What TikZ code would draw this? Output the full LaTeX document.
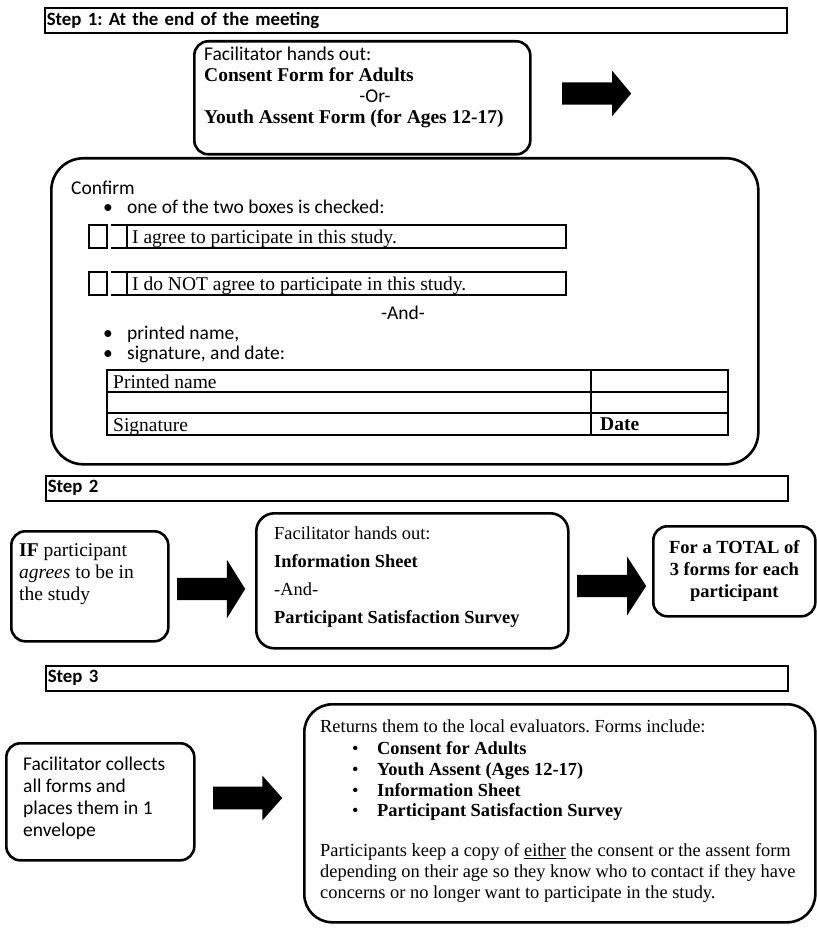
\documentclass[tikz,border=0pt]{standalone}
\usepackage{fontspec}
\setmainfont{Liberation Serif}
\newfontfamily\calfont{Carlito}
\frenchspacing
\usetikzlibrary{shapes.arrows}
\usetikzlibrary{positioning}
\tikzset{stepbar/.style={draw, line width=1.6pt, anchor=north west, minimum width=742pt, minimum height=25pt, text width=738pt, align=left, inner xsep=2pt, inner ysep=0pt, font=\calfont\bfseries\fontsize{18.8}{20}\selectfont}}
\tikzset{box/.style={draw, line width=2.6pt, anchor=north west, inner sep=0pt, rounded corners=14pt}}
\tikzset{fat/.style={single arrow, fill=black, draw=none, inner xsep=0pt, inner ysep=11pt, anchor=tail, single arrow tip angle=100}}
\tikzset{serif/.style={inner sep=0pt, font=\fontsize{19.5}{21}\selectfont}}
\tikzset{small/.style={inner sep=0pt, font=\fontsize{18.4}{21}\selectfont}}
\tikzset{sans/.style={inner sep=0pt, font=\calfont\fontsize{19.5}{21}\selectfont}}
\tikzset{rule/.style={line width=1.1pt}}

\begin{document}
\begin{tikzpicture}[x=1pt,y=-1pt]
    \useasboundingbox (0,0) rectangle (816,928);
    % Step 1
    \node[stepbar] (bar1) at (44,7) {Step 1: At the end of the meeting};
    \node[box, minimum width=336pt, minimum height=113pt] (handout) at (193,40) {};
    \node[serif, anchor=north west, align=left] (handouttxt) at (204,47) {{\calfont Facilitator hands out:}\\\textbf{Consent Form for Adults}\\[21pt]\textbf{Youth Assent Form (for Ages 12-17)}};
    \node[sans] (or) at (375,96) {-Or-};
    \node[fat, minimum height=69pt, minimum width=45pt, single arrow head extend=11.5pt] (arr1) at (562,93.5) {};

    \node[box, rounded corners=32pt, minimum width=707pt, minimum height=306pt] (confirm) at (50,157) {};
    \node[sans, anchor=mid west] (confirmtxt) at (71,192) {Confirm};
    \foreach \y/\lab/\tx in {
      211/boxes/{one of the two boxes is checked:},
      337/pname/{printed name,},
      357/sign/{signature, and date:}%
    } {
      \node[sans, anchor=mid west] (dot\lab) at (103,\y) {\textbullet};
      \node[sans, anchor=mid west] (\lab) at (127,\y) {\tx};
    }
    \foreach \y/\lab/\tx in {
      225/agree/{I agree to participate in this study.},
      272/disagree/{I do NOT agree to participate in this study.}%
    } {
      \draw[rule] (89,\y) rectangle ++(18,23);
      \draw[rule] (111,\y) -- ++(16,0) (111,{\y+23}) -- ++(16,0);
      \draw[rule] (127,\y) rectangle (566,{\y+23});
      \node[serif, anchor=base west] (\lab) at (132,{\y+18}) {\tx};
    }
    \node[sans] (and1) at (403,313) {-And-};
    \draw[rule] (107,370) rectangle (728,435);
    \draw[rule] (107,392) -- (728,392);
    \draw[rule] (107,413) -- (728,413);
    \draw[rule] (591,370) -- (591,435);
    \node[serif, anchor=base west] (printed) at (113,388) {Printed name};
    \node[serif, anchor=base west] (signature) at (113,431) {Signature};
    \node[serif, anchor=base west] (date) at (600,430) {\textbf{Date}};

    % Step 2
    \node[stepbar] (bar2) at (45,475) {Step 2};
    \node[box, minimum width=157pt, minimum height=110pt] (agrees) at (10,530) {};
    \node[serif, anchor=north west, align=left, font=\fontsize{19.5}{22}\selectfont] (agreestxt) at (19,543) {\textbf{IF} participant\\\textit{agrees} to be in\\the study};
    \node[fat, minimum height=68pt, minimum width=58pt, single arrow head extend=18pt, single arrow tip angle=116] (arr2) at (177,589) {};
    \node[box, rounded corners=18pt, minimum width=312pt, minimum height=135pt] (info) at (255,512) {};
    \node[small, anchor=north west, align=left, font=\fontsize{18.4}{28}\selectfont] (infotxt) at (274,527) {Facilitator hands out:\\\textbf{Information Sheet}\\-And-\\\textbf{Participant Satisfaction Survey}};
    \node[fat, minimum height=69pt, minimum width=58pt, single arrow head extend=18pt, single arrow tip angle=114] (arr3) at (577,586) {};
    \node[box, minimum width=162pt, minimum height=90pt] (total) at (652,525) {};
    \node[small, align=center, font=\bfseries\fontsize{18.5}{22}\selectfont] (totaltxt) at (total.center) {For a TOTAL of\\3 forms for each\\participant};

    % Step 3
    \node[stepbar] (bar3) at (45,665) {Step 3};
    \node[box, minimum width=188pt, minimum height=117pt] (collect) at (5,742) {};
    \node[sans, anchor=north west, align=left, font=\calfont\fontsize{19.5}{22}\selectfont] (collecttxt) at (23,757) {Facilitator collects\\all forms and\\places them in 1\\envelope};
    \node[fat, minimum height=69pt, minimum width=45pt, single arrow head extend=11pt, single arrow tip angle=97] (arr4) at (213,798) {};
    \node[box, rounded corners=28pt, minimum width=511pt, minimum height=218pt] (returns) at (303,703) {};
    \node[small, anchor=mid west] (returnstxt) at (320,730) {Returns them to the local evaluators. Forms include:};
    \foreach \y/\lab/\tx in {
      752/adults/{Consent for Adults},
      773/youth/{Youth Assent (Ages 12-17)},
      794/sheet/{Information Sheet},
      814/survey/{Participant Satisfaction Survey}%
    } {
      \node[small, anchor=mid west] (dot\lab) at (352,\y) {\textbullet};
      \node[small, anchor=mid west] (\lab) at (377,\y) {\textbf{\tx}};
    }
    \node[small, anchor=north west, align=left] (keeptxt) at (320,843) {Participants keep a copy of \underline{either} the consent or the assent form\\depending on their age so they know who to contact if they have\\concerns or no longer want to participate in the study.};
\end{tikzpicture}
\end{document}
